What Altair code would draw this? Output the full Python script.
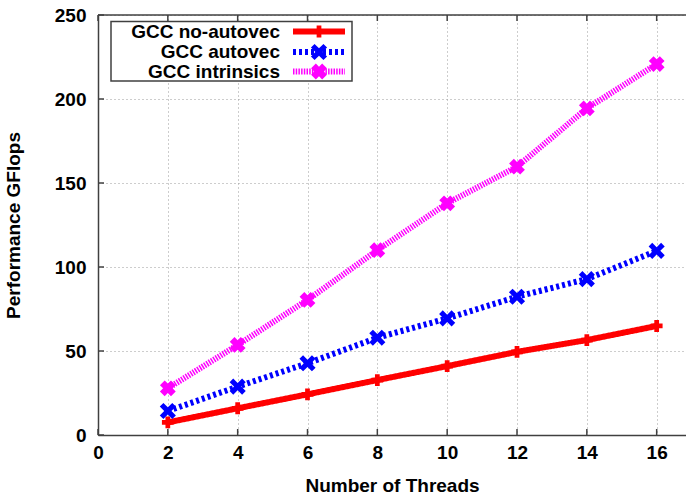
import altair as alt
import pandas as pd

# ---- data ----
threads = [2, 4, 6, 8, 10, 12, 14, 16]
no_autovec = [7.5, 15.9, 24.2, 32.7, 41.0, 49.5, 56.5, 64.9]
autovec = [14.3, 28.8, 42.7, 57.9, 69.4, 82.3, 92.8, 109.6]
intrinsics = [27.8, 53.6, 80.4, 110.0, 137.9, 159.7, 194.4, 220.8]

series_names = ["GCC no-autovec", "GCC autovec", "GCC intrinsics"]
series_values = [no_autovec, autovec, intrinsics]
series_colors = ["#ff0000", "#0000ff", "#ff00ff"]

x_ticks = [0, 2, 4, 6, 8, 10, 12, 14, 16]
y_ticks = [0, 50, 100, 150, 200, 250]

# ---- styling ----
W, H = 588, 420
FONT = "Liberation Sans"
FS = 19
AXIS_COLOR = "#404040"

X_SHAPE = "M-1,-0.55L-0.55,-1L0,-0.45L0.55,-1L1,-0.55L0.45,0L1,0.55L0.55,1L0,0.45L-0.55,1L-1,0.55L-0.45,0Z"
X_SHAPE_FAT = "M-1,-0.4L-0.4,-1L0,-0.6L0.4,-1L1,-0.4L0.6,0L1,0.4L0.4,1L0,0.6L-0.4,1L-1,0.4L-0.6,0Z"

styles = [
    dict(dash=[1, 0], width=6, shape="cross", size=140),
    dict(dash=[3, 3], width=6, shape=X_SHAPE, size=260),
    dict(dash=[1.5, 1.2], width=6, shape=X_SHAPE_FAT, size=250),
]

x_scale = alt.Scale(domain=[0, 16.84], nice=False, zero=False)
y_scale = alt.Scale(domain=[0, 250], nice=False)

x_axis = alt.Axis(
    values=x_ticks, title="Number of Threads", grid=True, gridDash=[1, 3],
    gridColor="#9a9a9a", gridWidth=1, ticks=False, domain=True,
    domainColor=AXIS_COLOR, domainWidth=1.5, labelFont=FONT, labelFontSize=FS,
    labelFontWeight="bold", labelColor="#000000", labelPadding=8,
    titleFont=FONT, titleFontSize=FS, titleFontWeight="bold",
    titleColor="#000000", titlePadding=14, labelFlush=False,
)
y_axis = alt.Axis(
    values=y_ticks, title="Performance GFlops", grid=True, gridDash=[1, 3],
    gridColor="#9a9a9a", gridWidth=1, ticks=False, domain=True,
    domainColor=AXIS_COLOR, domainWidth=1.5, labelFont=FONT, labelFontSize=FS,
    labelFontWeight="bold", labelColor="#000000", labelPadding=12,
    titleFont=FONT, titleFontSize=FS, titleFontWeight="bold",
    titleColor="#000000", titlePadding=31, labelFlush=False,
)


def X(field):
    return alt.X(field, scale=x_scale, axis=x_axis)


def Y(field):
    return alt.Y(field, scale=y_scale, axis=y_axis)


rows = []
for name, vals in zip(series_names, series_values):
    for t, v in zip(threads, vals):
        rows.append({"series": name, "threads": t, "gflops": v})
df = pd.DataFrame(rows)

layers = []

# inward ticks (bottom + top mirror, left)
xt = pd.DataFrame({"threads": x_ticks})
layers.append(
    alt.Chart(xt).mark_rule(color=AXIS_COLOR, strokeWidth=1.5).encode(
        x=X("threads:Q"), y=alt.value(H), y2=alt.value(H - 6)
    )
)
layers.append(
    alt.Chart(xt).mark_rule(color=AXIS_COLOR, strokeWidth=1.5).encode(
        x=X("threads:Q"), y=alt.value(0), y2=alt.value(6)
    )
)
yt = pd.DataFrame({"gflops": y_ticks})
layers.append(
    alt.Chart(yt).mark_rule(color=AXIS_COLOR, strokeWidth=1.5).encode(
        y=Y("gflops:Q"), x=alt.value(0), x2=alt.value(6)
    )
)

# top border
layers.append(
    alt.Chart(pd.DataFrame({"a": [0]})).mark_rule(color=AXIS_COLOR, strokeWidth=1.5).encode(
        x=alt.value(0), x2=alt.value(W), y=alt.value(0)
    )
)

# series
for name, color, st in zip(series_names, series_colors, styles):
    sub = alt.Chart(df).transform_filter(alt.datum.series == name)
    layers.append(
        sub.mark_line(color=color, strokeWidth=st["width"], strokeDash=st["dash"]).encode(
            x=X("threads:Q"), y=Y("gflops:Q")
        )
    )
    layers.append(
        sub.mark_point(color=color, fill=color, filled=True, opacity=1,
                       shape=st["shape"], size=st["size"], strokeWidth=0).encode(
            x=X("threads:Q"), y=Y("gflops:Q")
        )
    )

# manual gnuplot-style legend (text left, sample right)
LX0, LX1, LY0, LY1 = 13, 254, 6.5, 66
layers.append(
    alt.Chart(pd.DataFrame({"a": [0]})).mark_rect(
        fill="#ffffff", stroke=AXIS_COLOR, strokeWidth=1.5
    ).encode(x=alt.value(LX0), x2=alt.value(LX1), y=alt.value(LY0), y2=alt.value(LY1))
)
row_y = [16.5, 37, 56.5]
for name, color, st, ry in zip(series_names, series_colors, styles, row_y):
    one = alt.Chart(pd.DataFrame({"name": [name]}))
    layers.append(
        one.mark_text(align="right", baseline="middle", font=FONT, fontSize=FS,
                      fontWeight="bold", color="#000000").encode(
            text="name:N", x=alt.value(182), y=alt.value(ry)
        )
    )
    layers.append(
        one.mark_rule(color=color, strokeWidth=st["width"], strokeDash=st["dash"]).encode(
            x=alt.value(195), x2=alt.value(247), y=alt.value(ry)
        )
    )
    layers.append(
        one.mark_point(color=color, fill=color, filled=True, opacity=1,
                       shape=st["shape"], size=st["size"], strokeWidth=0).encode(
            x=alt.value(221), y=alt.value(ry)
        )
    )

chart = alt.layer(*layers).properties(
    width=W, height=H,
    autosize=alt.AutoSizeParams(type="none"),
    padding={"left": 98, "top": 15, "right": 0, "bottom": 60},
    background="#ffffff",
).configure_view(stroke=None)

chart.save("out.html", embed_options={"renderer": "svg", "actions": False})
